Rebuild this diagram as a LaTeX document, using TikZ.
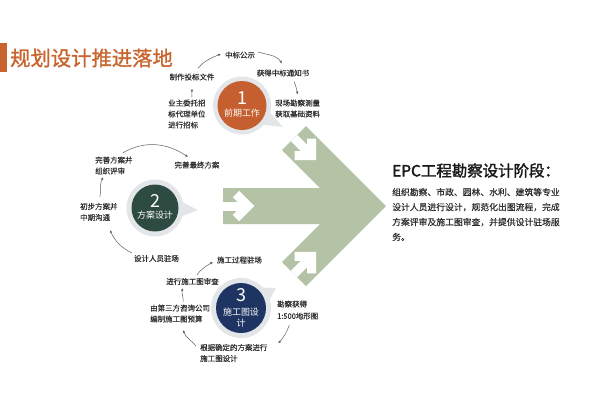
\documentclass[tikz,border=0pt]{standalone}
\usepackage{fontspec}
\setmainfont{Noto Sans CJK SC}
\newfontfamily\cjkbold[FakeBold=2]{Noto Sans CJK SC}
\newfontfamily\cjksemi[FakeBold=1.2]{Noto Sans CJK SC}
\newfontfamily\cjklite[FakeBold=0.4]{Noto Sans CJK SC}
\usetikzlibrary{arrows.meta}
\definecolor{titleor}{HTML}{C8652F}
\definecolor{circone}{HTML}{C65F30}
\definecolor{circtwo}{HTML}{2E4B42}
\definecolor{circthree}{HTML}{1E3462}
\definecolor{ringc}{HTML}{E3E6E9}
\definecolor{arrowg}{HTML}{B4C3A5}
\definecolor{txtc}{HTML}{2E2E2E}
\definecolor{linec}{HTML}{5E5E5E}
\tikzset{
  lbl/.style={font=\cjklite\fontsize{7.5}{11}\selectfont, text=txtc, inner sep=0pt, align=left},
  flow/.style={draw=linec, line width=0.5bp, -{Latex[length=2.8bp,width=2.6bp]}},
  warrow/.style={draw=white, line width=9bp, line join=miter},
  disc/.style={circle, inner sep=0pt},
  num/.style={text=white, inner sep=0pt, font=\fontsize{18}{18}\selectfont},
  ctext/.style={text=white, inner sep=0pt, align=center, font=\fontsize{9}{11.5}\selectfont},
}
\begin{document}
\begin{tikzpicture}[x=1bp,y=1bp]
\fill[white] (0,0) rectangle (600,-400);
\useasboundingbox (0,0) rectangle (600,-400);

% title
\fill[titleor] (0,-43) rectangle (7,-72);
\node[anchor=west, text=titleor, inner sep=0pt, font=\cjksemi\fontsize{20.4}{24}\selectfont] (title) at (10,-58) {规划设计推进落地};

% big arrow
\fill[arrowg] (223,-188) -- (320,-188) -- (282,-150) -- (306,-126) -- (386,-206)
  -- (306,-286) -- (282,-262) -- (320,-224) -- (223,-224) -- cycle;
\begin{scope}[shift={(223,-206)}]
  \draw[warrow] (0,0) -- (24,0);
  \draw[warrow] (13,12) -- (25,0) -- (13,-12);
\end{scope}
\begin{scope}[shift={(294,-138)}, rotate=-45]
  \draw[warrow] (0,0) -- (24,0);
  \draw[warrow] (13,12) -- (25,0) -- (13,-12);
\end{scope}
\begin{scope}[shift={(294,-274)}, rotate=45]
  \draw[warrow] (0,0) -- (24,0);
  \draw[warrow] (13,12) -- (25,0) -- (13,-12);
\end{scope}

% rings with tails
\fill[ringc] (242,-105.5) circle (29);
\fill[ringc, shift={(242,-105.5)}] (-13:28) -- (-27.7:46.3) -- (-43:28) -- cycle;
\fill[ringc] (155,-208) circle (28.5);
\fill[ringc, shift={(155,-208)}] (13:27.5) -- (-2.7:43) -- (-18:27.5) -- cycle;
\fill[ringc] (241,-308) circle (30);
\fill[ringc, shift={(241,-308)}] (45:29) -- (29.7:40.3) -- (14:29) -- cycle;

% discs
\node[disc, fill=circone, minimum size=49bp] (c1) at (242,-105.5) {};
\node[disc, fill=circtwo, minimum size=47bp] (c2) at (155,-208) {};
\node[disc, fill=circthree, minimum size=50bp] (c3) at (241,-308) {};
\node[num] (c1n) at (242,-98) {1};
\node[ctext] (c1t) at (242,-113) {前期工作};
\node[num] (c2n) at (155,-201) {2};
\node[ctext] (c2t) at (155,-215) {方案设计};
\node[num] (c3n) at (241,-295) {3};
\node[ctext] (c3t) at (241,-317.5) {施工图设\\计};

% group 1 labels
\node[lbl, anchor=west] (n1a) at (168,-114) {业主委托招\\标代理单位\\进行招标};
\node[lbl] (n1b) at (192,-77) {制作投标文件};
\node[lbl] (n1c) at (240,-55) {中标公示};
\node[lbl] (n1d) at (283,-73) {获得中标通知书};
\node[lbl, anchor=west] (n1e) at (275,-108.5) {现场勘察测量\\获取基础资料};

% group 2 labels
\node[lbl] (n2a) at (156.5,-258.5) {设计人员驻场};
\node[lbl, anchor=west] (n2b) at (80,-212) {初步方案并\\中期沟通};
\node[lbl, anchor=west] (n2c) at (95,-165.5) {完善方案并\\组织评审};
\node[lbl] (n2d) at (197,-165) {完善最终方案};

% group 3 labels
\node[lbl, anchor=west, font=\cjklite\fontsize{7.5}{12}\selectfont] (n3a) at (277,-310) {勘察获得\\1:500地形图};
\node[lbl, anchor=west] (n3b) at (200,-353) {根据确定的方案进行\\施工图设计};
\node[lbl, anchor=west] (n3c) at (150,-313.5) {由第三方咨询公司\\编制施工图预算};
\node[lbl] (n3d) at (192.5,-281.5) {进行施工图审查};
\node[lbl] (n3e) at (239.5,-260) {施工过程驻场};

% group 1 connectors
\draw[flow] ([shift={(5,2)}]n1a.north) -- ([shift={(0,-8)}]n1b.south);
\draw[flow] ([shift={(6,5)}]n1b.north) to[out=50,in=202] ([shift={(-4,1)}]n1c.west);
\draw[flow] ([shift={(3,3)}]n1c.east) to[out=-17,in=125] ([shift={(-1,6)}]n1d.north);
\draw[flow] ([shift={(11,-5)}]n1d.south) to[out=-66,in=101] ([shift={(0,5)}]n1e.north);

% group 2 connectors
\draw[flow] ([shift={(-2,5.5)}]n2a.west) to[out=153,in=-64] ([shift={(11,-9)}]n2b.south);
\draw[flow] ([shift={(1,6)}]n2b.north) to[out=79,in=239] ([shift={(-10.5,-2.5)}]n2c.south);
\draw[flow] ([shift={(9,3.5)}]n2c.north) to[out=30,in=147] ([shift={(-9,4.5)}]n2d.north);

% group 3 connectors
\draw[flow] ([shift={(-8.5,-5.5)}]n3a.south) to[out=-110,in=47] ([shift={(10.5,0.5)}]n3b.north east);
\draw[flow] ([shift={(-4,7)}]n3b.west) to[out=130,in=-69] ([shift={(3,-7.5)}]n3c.south);
\draw[flow] ([shift={(3,2.5)}]n3c.north) to[out=84,in=251] ([shift={(-9.5,-3)}]n3d.south);
\draw[flow] ([shift={(4.5,3)}]n3d.north) to[out=53,in=211] ([shift={(-4,-2)}]n3e.west);

% right text
\node[anchor=west, inner sep=0pt, text=black!90, font=\cjkbold\fontsize{15.5}{18}\selectfont] (epc) at (392,-170.5) {EPC工程勘察设计阶段：};
\node[anchor=west, inner sep=0pt, align=left, text=txtc, font=\cjklite\fontsize{8.85}{15}\selectfont] (body) at (392,-214.5)
  {组织勘察、市政、园林、水利、建筑等专业\\设计人员进行设计，规范化出图流程，完成\\方案评审及施工图审查，并提供设计驻场服\\务。};
\end{tikzpicture}
\end{document}
